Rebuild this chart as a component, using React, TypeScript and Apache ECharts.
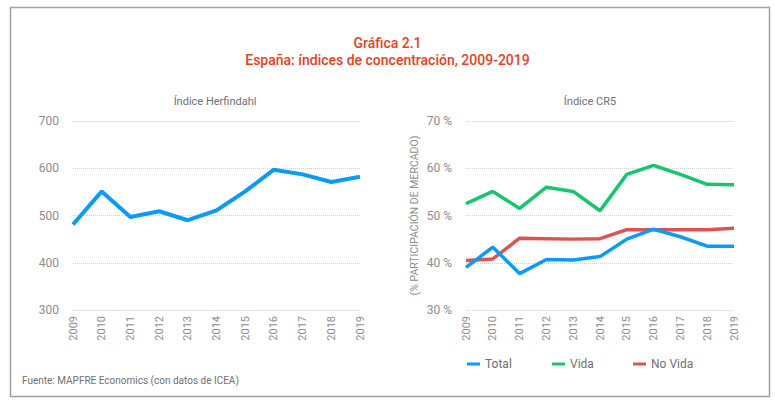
import { useEffect, useRef } from "react";
import * as echarts from "echarts";

const years = ["2009", "2010", "2011", "2012", "2013", "2014", "2015", "2016", "2017", "2018", "2019"];
const herfindahl = [481, 551, 497, 509, 490, 511, 551, 597, 587, 571, 582];
const total = [39.0, 43.3, 37.7, 40.7, 40.6, 41.3, 45.0, 47.1, 45.5, 43.5, 43.5];
const vida = [52.5, 55.1, 51.5, 56.0, 55.1, 51.0, 58.7, 60.6, 58.7, 56.6, 56.5];
const noVida = [40.5, 40.8, 45.2, 45.1, 45.0, 45.1, 47.0, 47.0, 47.0, 47.0, 47.3];
const legendNames = ["Total", "Vida", "No Vida"];

const FONT = "Roboto, 'Noto Sans', sans-serif";
const GREY = "#8c8c8c";
const BLUE = "#0a9bf5";
const GREEN = "#17c66c";
const RED = "#e05252";

export default function App() {
  const chartRef = useRef<HTMLDivElement>(null);

  useEffect(() => {
    if (!chartRef.current) return;
    const chart = echarts.init(chartRef.current, null, { renderer: "svg" });

    const xAxisBase = {
      type: "category",
      data: years,
      boundaryGap: false,
      axisLine: { show: false },
      axisTick: { show: false },
      axisLabel: { color: GREY, fontSize: 11, rotate: 90, margin: 6, fontFamily: FONT },
    };
    const yAxisBase = {
      type: "value",
      min: 30,
      max: 70,
      interval: 10,
      axisLine: { show: false },
      axisTick: { show: false },
      splitLine: { lineStyle: { type: "dotted", color: "#cfcfcf", width: 1 } },
      axisLabel: { color: GREY, fontSize: 12, margin: 14, fontFamily: FONT },
    };
    // one legend per item so each sits where the reference has it
    const legendLeft = [467, 552, 633];

    chart.setOption({
      animation: false,
      textStyle: { fontFamily: FONT },
      title: [
        {
          text: "Gráfica 2.1",
          left: "center",
          top: 31,
          textStyle: { color: "#e8401e", fontSize: 14, fontWeight: 500, fontFamily: FONT },
        },
        {
          text: "España: índices de concentración, 2009-2019",
          left: "center",
          top: 48,
          textStyle: { color: "#e8401e", fontSize: 14, fontWeight: 500, fontFamily: FONT },
        },
        {
          text: "Índice Herfindahl",
          left: 210,
          top: 91,
          textAlign: "center",
          textStyle: { color: "#707070", fontSize: 11, fontWeight: "normal", fontFamily: FONT },
        },
        {
          text: "Índice CR5",
          left: 585,
          top: 91,
          textAlign: "center",
          textStyle: { color: "#707070", fontSize: 11, fontWeight: "normal", fontFamily: FONT },
        },
      ],
      grid: [
        { left: 73, top: 121, width: 287, height: 189 },
        { left: 466, top: 121, width: 268, height: 189 },
      ],
      xAxis: [
        { ...xAxisBase, gridIndex: 0 },
        { ...xAxisBase, gridIndex: 1 },
      ],
      yAxis: [
        { ...yAxisBase, gridIndex: 0, min: 300, max: 700, interval: 100 },
        {
          ...yAxisBase,
          gridIndex: 1,
          axisLabel: { ...yAxisBase.axisLabel, formatter: "{value} %" },
          name: "(% PARTICIPACIÓN DE MERCADO)",
          nameLocation: "middle",
          nameGap: 46,
          nameRotate: 90,
          nameTextStyle: { color: GREY, fontSize: 10.5, fontFamily: FONT },
        },
      ],
      legend: legendNames.map((n, i) => ({
        left: legendLeft[i],
        top: 358,
        padding: 0,
        itemWidth: 13,
        itemHeight: 3,
        itemGap: 8,
        icon: "rect",
        textStyle: { color: "#707070", fontSize: 12, fontFamily: FONT },
        data: [n],
      })),
      graphic: [
        {
          type: "rect",
          shape: { x: 10.5, y: 7.5, width: 759, height: 389 },
          style: { fill: "none", stroke: "#a0a0a0", lineWidth: 1.5 },
          silent: true,
        },
        {
          type: "text",
          left: 22,
          top: 375,
          style: {
            text: "Fuente: MAPFRE Economics (con datos de ICEA)",
            fill: "#707070",
            fontSize: 10,
            fontFamily: FONT,
          },
        },
      ],
      series: [
        {
          name: "Herfindahl",
          type: "line",
          xAxisIndex: 0,
          yAxisIndex: 0,
          data: herfindahl,
          symbol: "none",
          lineStyle: { color: BLUE, width: 4 },
        },
        {
          name: "Total",
          type: "line",
          xAxisIndex: 1,
          yAxisIndex: 1,
          data: total,
          symbol: "none",
          itemStyle: { color: BLUE },
          lineStyle: { color: BLUE, width: 3.5 },
          z: 4,
        },
        {
          name: "Vida",
          type: "line",
          xAxisIndex: 1,
          yAxisIndex: 1,
          data: vida,
          symbol: "none",
          itemStyle: { color: GREEN },
          lineStyle: { color: GREEN, width: 3.5 },
        },
        {
          name: "No Vida",
          type: "line",
          xAxisIndex: 1,
          yAxisIndex: 1,
          data: noVida,
          symbol: "none",
          itemStyle: { color: RED },
          lineStyle: { color: RED, width: 3.5 },
          z: 3,
        },
      ],
    });

    return () => {
      chart.dispose();
    };
  }, []);

  return (
    <div
      ref={chartRef}
      style={{ position: "fixed", left: 0, top: 0, width: 775, height: 404, background: "#fff" }}
    />
  );
}
